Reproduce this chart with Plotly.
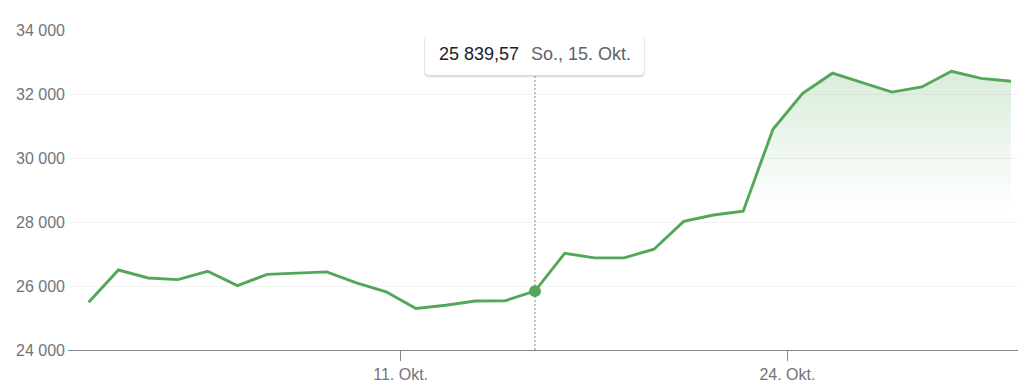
import plotly.graph_objects as go
import pandas as pd

# ---- data ----
start_date = "2023-09-30 12:20"
values = [25490, 26500, 26250, 26200, 26460, 26010, 26365, 26400, 26440, 26100,
          25820, 25300, 25400, 25530, 25540, 25839.57, 27020, 26880, 26880, 27150,
          28020, 28220, 28340, 30900, 32020, 32650, 32350, 32060, 32220, 32710,
          32490, 32400]
dates = pd.date_range(start_date, periods=len(values), freq="D")
highlight_index = 15
x_tick_dates = ["2023-10-11", "2023-10-24"]
x_tick_labels = ["11. Okt.", "24. Okt."]
y_ticks = [24000, 26000, 28000, 30000, 32000, 34000]
weekdays_de = ["Mo.", "Di.", "Mi.", "Do.", "Fr.", "Sa.", "So."]
months_de = ["Jan.", "Feb.", "März", "Apr.", "Mai", "Juni", "Juli", "Aug.",
             "Sep.", "Okt.", "Nov.", "Dez."]

GREEN = "rgb(84,167,89)"
FONT = "Arial, 'Liberation Sans', sans-serif"

fig = go.Figure()
fig.add_trace(go.Scatter(
    x=dates, y=values, mode="lines",
    line=dict(color=GREEN, width=2.9),
    fill="tozeroy",
    fillgradient=dict(type="vertical",
                      colorscale=[[0, "rgba(84,167,89,0)"], [1, "rgba(84,167,89,0.22)"]],
                      start=28300, stop=max(values)),
    hoverinfo="skip",
))
hx = dates[highlight_index]
hy = values[highlight_index]
fig.add_trace(go.Scatter(
    x=[hx], y=[hy], mode="markers",
    marker=dict(color=GREEN, size=12),
    hoverinfo="skip",
))

# tooltip
val_txt = f"{hy:,.2f}".replace(",", " ").replace(".", ",")
date_txt = f"{weekdays_de[hx.weekday()]}, {hx.day}. {months_de[hx.month - 1]}"


def rrect(x0, x1, y0, y1, r):
    return (f"M{x0 + r},{y0} L{x1 - r},{y0} Q{x1},{y0} {x1},{y0 + r} "
            f"L{x1},{y1 - r} Q{x1},{y1} {x1 - r},{y1} L{x0 + r},{y1} "
            f"Q{x0},{y1} {x0},{y1 - r} L{x0},{y0 + r} Q{x0},{y0} {x0 + r},{y0} Z")


box_center = (350 - 55) / 320.0
box_bottom = (350 - 75) / 320.0
shapes = [
    dict(type="line", xref="x", yref="paper", x0=hx, x1=hx, y0=0, y1=box_bottom,
         line=dict(color="#9a9a9a", width=1.2, dash="2px,2px"), layer="between"),
    dict(type="path", xref="x", yref="paper", xsizemode="pixel", ysizemode="pixel",
         xanchor=hx, yanchor=box_center, path=rrect(-111, 110, -23, 19, 5),
         fillcolor="rgba(0,0,0,0.05)", line=dict(width=0), layer="above"),
    dict(type="path", xref="x", yref="paper", xsizemode="pixel", ysizemode="pixel",
         xanchor=hx, yanchor=box_center, path=rrect(-110.5, 109.5, -21.5, 20, 4),
         fillcolor="rgba(0,0,0,0.10)", line=dict(width=0), layer="above"),
    dict(type="path", xref="x", yref="paper", xsizemode="pixel", ysizemode="pixel",
         xanchor=hx, yanchor=box_center, path=rrect(-110, 109, -20, 20, 4),
         fillcolor="white", line=dict(width=0), layer="above"),
]
annotations = [
    dict(x=hx, y=(350 - 53.5) / 320.0, xref="x", yref="paper", text=val_txt,
         showarrow=False, xanchor="left", yanchor="middle", xshift=-98,
         font=dict(family=FONT, size=18, color="#202124")),
    dict(x=hx, y=(350 - 53.5) / 320.0, xref="x", yref="paper", text=date_txt,
         showarrow=False, xanchor="left", yanchor="middle", xshift=-6,
         font=dict(family=FONT, size=18, color="#5f6368")),
]

fig.update_layout(
    width=1024, height=391,
    margin=dict(l=68, r=6, t=30, b=41),
    paper_bgcolor="white", plot_bgcolor="white",
    showlegend=False, hovermode=False,
    separators=", ",
    font=dict(family=FONT, size=16, color="#70757a"),
    shapes=shapes, annotations=annotations,
    xaxis=dict(
        type="date",
        range=["2023-09-29 19:40", "2023-10-31 18:00"],
        tickvals=x_tick_dates, ticktext=x_tick_labels,
        ticks="outside", ticklen=10, tickcolor="#80868b", tickwidth=1,
        showline=True, linecolor="#80868b", linewidth=1.2,
        showgrid=False, zeroline=False,
        tickfont=dict(family=FONT, size=16, color="#70757a"),
    ),
    yaxis=dict(
        range=[24000, 34000],
        tickvals=y_ticks, tickformat=",d",
        showgrid=True, gridcolor="#f2f2f2", gridwidth=1,
        zeroline=False, showline=False, ticks="",
        ticklabelstandoff=2,
        tickfont=dict(family=FONT, size=16, color="#70757a"),
    ),
)

fig.write_html("out.html", config={"displayModeBar": False},
               post_script="document.body.style.margin='0';document.body.style.overflow='hidden';")
